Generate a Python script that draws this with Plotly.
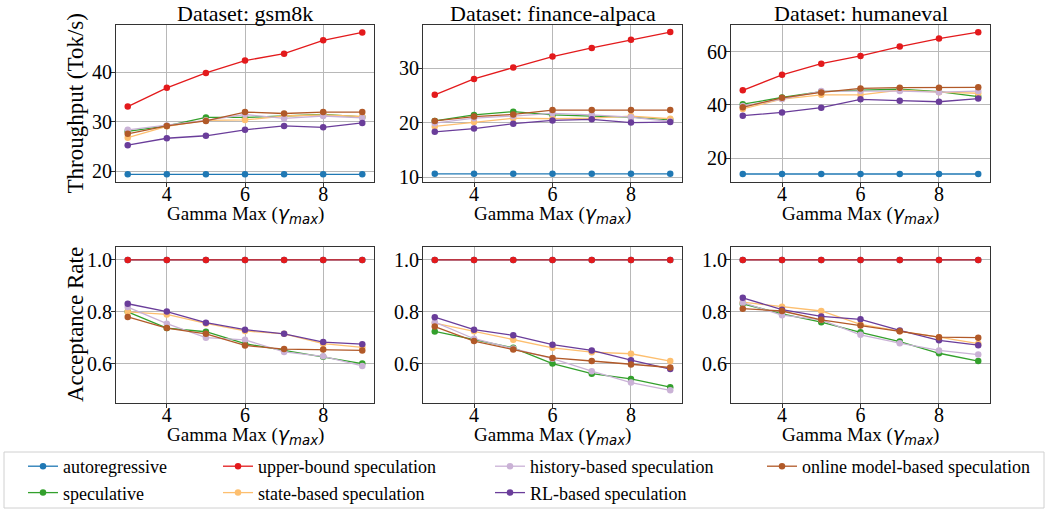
import plotly.graph_objects as go
from plotly.subplots import make_subplots

# ---------------- data ----------------
gamma_max = [3, 4, 5, 6, 7, 8, 9]
datasets = ["gsm8k", "finance-alpaca", "humaneval"]

series_order = [
    "autoregressive",
    "speculative",
    "upper-bound speculation",
    "state-based speculation",
    "history-based speculation",
    "RL-based speculation",
    "online model-based speculation",
]

# Throughput (Tok/s)
tp_gsm8k = {
    "autoregressive": [19.4, 19.4, 19.4, 19.4, 19.4, 19.4, 19.4],
    "speculative": [28.1, 29.2, 30.9, 30.9, 31.2, 31.5, 31.0],
    "upper-bound speculation": [33.1, 36.9, 39.9, 42.4, 43.8, 46.5, 48.1],
    "state-based speculation": [26.8, 29.1, 30.3, 30.4, 31.2, 31.4, 31.1],
    "history-based speculation": [28.4, 29.3, 30.3, 31.5, 30.7, 31.2, 30.8],
    "RL-based speculation": [25.3, 26.7, 27.2, 28.4, 29.2, 28.9, 29.8],
    "online model-based speculation": [27.6, 29.2, 30.2, 32.0, 31.7, 32.0, 32.0],
}
tp_finance = {
    "autoregressive": [10.6, 10.6, 10.6, 10.6, 10.6, 10.6, 10.6],
    "speculative": [20.3, 21.4, 22.0, 21.4, 21.2, 21.0, 20.5],
    "upper-bound speculation": [25.1, 28.0, 30.1, 32.1, 33.7, 35.2, 36.6],
    "state-based speculation": [19.3, 20.1, 20.8, 20.7, 20.8, 21.2, 20.7],
    "history-based speculation": [19.9, 20.8, 21.2, 21.7, 21.4, 21.0, 20.2],
    "RL-based speculation": [18.3, 18.9, 19.8, 20.4, 20.6, 20.0, 20.1],
    "online model-based speculation": [20.3, 21.1, 21.5, 22.3, 22.3, 22.3, 22.3],
}
tp_humaneval = {
    "autoregressive": [14.1, 14.1, 14.1, 14.1, 14.1, 14.1, 14.1],
    "speculative": [40.3, 42.8, 45.0, 45.6, 45.9, 45.0, 43.1],
    "upper-bound speculation": [45.5, 51.3, 55.5, 58.4, 61.9, 64.9, 67.3],
    "state-based speculation": [38.5, 42.2, 43.8, 43.8, 45.6, 44.8, 44.4],
    "history-based speculation": [39.6, 42.2, 45.2, 45.2, 45.2, 44.8, 45.2],
    "RL-based speculation": [36.0, 37.2, 39.0, 42.1, 41.6, 41.2, 42.4],
    "online model-based speculation": [39.1, 42.7, 44.7, 46.2, 46.5, 46.5, 46.6],
}

# Acceptance rate
ar_gsm8k = {
    "autoregressive": [1.0, 1.0, 1.0, 1.0, 1.0, 1.0, 1.0],
    "speculative": [0.800, 0.737, 0.723, 0.677, 0.651, 0.626, 0.600],
    "upper-bound speculation": [1.0, 1.0, 1.0, 1.0, 1.0, 1.0, 1.0],
    "state-based speculation": [0.800, 0.790, 0.755, 0.726, 0.715, 0.677, 0.663],
    "history-based speculation": [0.818, 0.754, 0.700, 0.692, 0.645, 0.628, 0.591],
    "RL-based speculation": [0.831, 0.801, 0.758, 0.731, 0.715, 0.683, 0.675],
    "online model-based speculation": [0.780, 0.737, 0.715, 0.670, 0.656, 0.654, 0.651],
}
ar_finance = {
    "autoregressive": [1.0, 1.0, 1.0, 1.0, 1.0, 1.0, 1.0],
    "speculative": [0.724, 0.692, 0.661, 0.600, 0.561, 0.541, 0.509],
    "upper-bound speculation": [1.0, 1.0, 1.0, 1.0, 1.0, 1.0, 1.0],
    "state-based speculation": [0.756, 0.725, 0.692, 0.661, 0.644, 0.638, 0.610],
    "history-based speculation": [0.760, 0.696, 0.658, 0.619, 0.571, 0.527, 0.497],
    "RL-based speculation": [0.779, 0.731, 0.709, 0.673, 0.651, 0.613, 0.579],
    "online model-based speculation": [0.743, 0.687, 0.654, 0.622, 0.610, 0.597, 0.585],
}
ar_humaneval = {
    "autoregressive": [1.0, 1.0, 1.0, 1.0, 1.0, 1.0, 1.0],
    "speculative": [0.831, 0.792, 0.760, 0.721, 0.685, 0.640, 0.610],
    "upper-bound speculation": [1.0, 1.0, 1.0, 1.0, 1.0, 1.0, 1.0],
    "state-based speculation": [0.837, 0.819, 0.803, 0.751, 0.725, 0.702, 0.677],
    "history-based speculation": [0.835, 0.787, 0.769, 0.711, 0.679, 0.651, 0.635],
    "RL-based speculation": [0.854, 0.808, 0.782, 0.771, 0.728, 0.690, 0.671],
    "online model-based speculation": [0.812, 0.803, 0.769, 0.747, 0.725, 0.702, 0.700],
}

throughput = [tp_gsm8k, tp_finance, tp_humaneval]
acceptance = [ar_gsm8k, ar_finance, ar_humaneval]

# tick values / ranges
tp_ranges = [[17.85, 49.6], [9.1, 37.9], [11.1, 70.0]]
tp_ticks = [[20, 30, 40], [10, 20, 30], [20, 40, 60]]
ar_range = [0.448, 1.05]
ar_ticks = [0.6, 0.8, 1.0]
x_ticks = [4, 6, 8]
x_range = [2.7, 9.3]

colors = {
    "autoregressive": "#1f78b4",
    "speculative": "#33a02c",
    "upper-bound speculation": "#e31a1c",
    "state-based speculation": "#fdbf6f",
    "history-based speculation": "#cab2d6",
    "RL-based speculation": "#6a3d9a",
    "online model-based speculation": "#b15928",
}
legend_of = {
    "autoregressive": "legend",
    "speculative": "legend",
    "upper-bound speculation": "legend2",
    "state-based speculation": "legend2",
    "history-based speculation": "legend3",
    "RL-based speculation": "legend3",
    "online model-based speculation": "legend4",
}

# ---------------- figure ----------------
W, H = 1047, 510
FONT = "Liberation Serif"

fig = make_subplots(rows=2, cols=3)

col_px = [(116, 374), (423, 682), (731, 990)]
row_px = [(25, 182), (247, 403)]

for r, data_list in enumerate([throughput, acceptance], start=1):
    for c, data in enumerate(data_list, start=1):
        for name in series_order:
            fig.add_trace(
                go.Scatter(
                    x=gamma_max,
                    y=data[name],
                    mode="lines+markers",
                    name=name,
                    legendgroup=name,
                    line=dict(color=colors[name], width=1.3),
                    marker=dict(color=colors[name], size=6.5),
                    showlegend=(r == 1 and c == 1),
                    legend=legend_of[name],
                ),
                row=r,
                col=c,
            )

xlabel = "Gamma Max (<span style='font-family:DejaVu Sans'><i>γ<sub>max</sub></i></span>)"

for r in (1, 2):
    for c in (1, 2, 3):
        x0, x1 = col_px[c - 1]
        y0, y1 = row_px[r - 1]
        fig.update_xaxes(
            domain=[x0 / W, x1 / W],
            range=x_range,
            tickvals=x_ticks,
            row=r, col=c,
        )
        if r == 1:
            yr, yt, yfmt = tp_ranges[c - 1], tp_ticks[c - 1], None
        else:
            yr, yt, yfmt = ar_range, ar_ticks, ".1f"
        fig.update_yaxes(
            domain=[1 - y1 / H, 1 - y0 / H],
            range=yr,
            tickvals=yt,
            tickformat=yfmt,
            row=r, col=c,
        )
        # x-axis label
        fig.add_annotation(
            x=(x0 + x1) / 2 / W, y=1 - (y1 + 32) / H, xref="paper", yref="paper",
            text=xlabel, showarrow=False, xanchor="center", yanchor="middle",
            font=dict(size=19, family=FONT, color="black"),
        )

axis_style = dict(
    automargin=False,
    showline=True, mirror=True, linecolor="#333333", linewidth=1.2,
    ticks="outside", ticklen=4, tickcolor="#333333",
    showgrid=True, gridcolor="#b8b8b8", gridwidth=0.9, zeroline=False,
    tickfont=dict(family=FONT, size=20, color="black"),
)
fig.update_xaxes(ticklabelstandoff=-10, **axis_style)
fig.update_yaxes(ticklabelstandoff=-5, **axis_style)

# y-axis labels
for text, (y0, y1) in zip(["Throughput (Tok/s)", "Acceptance Rate"], row_px):
    fig.add_annotation(
        x=75 / W, y=1 - (y0 + y1) / 2 / H, xref="paper", yref="paper",
        text=text, textangle=-90, showarrow=False, xanchor="center", yanchor="middle",
        font=dict(size=23, family=FONT, color="black"),
    )

# subplot titles
for c, ds in enumerate(datasets):
    x0, x1 = col_px[c]
    fig.add_annotation(
        x=(x0 + x1) / 2 / W, y=1 - 13 / H, xref="paper", yref="paper",
        text=f"Dataset: {ds}", showarrow=False, xanchor="center", yanchor="middle",
        font=dict(size=22, family=FONT, color="black"),
    )

# legend frame
fig.add_shape(
    type="rect", xref="paper", yref="paper",
    x0=4 / W, x1=1044 / W, y0=1 - 508 / H, y1=1 - 452 / H,
    line=dict(color="#d0d0d0", width=1), fillcolor="rgba(0,0,0,0)", layer="below",
)

leg_common = dict(
    orientation="v", yanchor="top", xanchor="left",
    font=dict(family=FONT, size=18, color="black"),
    bgcolor="rgba(0,0,0,0)", borderwidth=0, tracegroupgap=0,
    itemwidth=30,
)
leg_y = 1 - 448 / H
fig.update_layout(
    legend=dict(x=23 / W, y=leg_y, **leg_common),
    legend2=dict(x=218 / W, y=leg_y, **leg_common),
    legend3=dict(x=490 / W, y=leg_y, **leg_common),
    legend4=dict(x=762 / W, y=leg_y, **leg_common),
)

fig.update_layout(
    width=W, height=H,
    margin=dict(l=0, r=0, t=0, b=0, autoexpand=False),
    paper_bgcolor="white", plot_bgcolor="white",
    font=dict(family=FONT, color="black"),
)

fig.write_html("out.html", config={"displayModeBar": False})

# remove the browser's default page margin so the figure sits at (0, 0)
with open("out.html", "r", encoding="utf-8") as f:
    html = f.read()
html = html.replace(
    "<head>",
    "<head><style>html,body{margin:0;padding:0;overflow:hidden;}</style>",
    1,
)
with open("out.html", "w", encoding="utf-8") as f:
    f.write(html)
